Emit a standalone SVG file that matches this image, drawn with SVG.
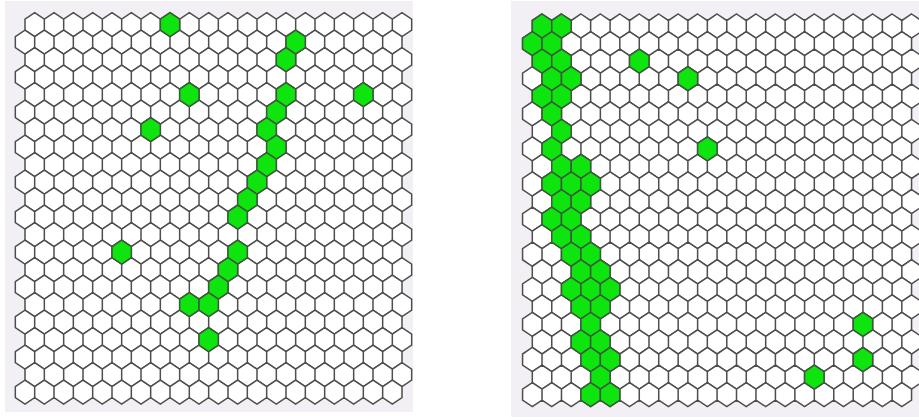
<svg xmlns="http://www.w3.org/2000/svg" xmlns:xlink="http://www.w3.org/1999/xlink" width="919" height="420" viewBox="0 0 919 420">
<style>
.bg{fill:#f2f0f4}
.cell{fill:#ffffff;stroke:#4e4e4e;stroke-width:1.5}
.on{fill:#0ee50e;stroke:#3a5a3a;stroke-width:1.5}
</style>
<defs>
<path id="hx" d="M0,-12 L9.667,-5.5 V5.5 L0,12 L-9.667,5.5 V-5.5 Z"/>
<path id="row" d="M9.667,-12 l9.667,6.5 v11 l-9.667,6.5 l-9.667,-6.5 v-11z m19.333,0 l9.667,6.5 v11 l-9.667,6.5 l-9.667,-6.5 v-11z m19.333,0 l9.667,6.5 v11 l-9.667,6.5 l-9.667,-6.5 v-11z m19.333,0 l9.667,6.5 v11 l-9.667,6.5 l-9.667,-6.5 v-11z m19.333,0 l9.667,6.5 v11 l-9.667,6.5 l-9.667,-6.5 v-11z m19.333,0 l9.667,6.5 v11 l-9.667,6.5 l-9.667,-6.5 v-11z m19.333,0 l9.667,6.5 v11 l-9.667,6.5 l-9.667,-6.5 v-11z m19.333,0 l9.667,6.5 v11 l-9.667,6.5 l-9.667,-6.5 v-11z m19.333,0 l9.667,6.5 v11 l-9.667,6.5 l-9.667,-6.5 v-11z m19.333,0 l9.667,6.5 v11 l-9.667,6.5 l-9.667,-6.5 v-11z m19.333,0 l9.667,6.5 v11 l-9.667,6.5 l-9.667,-6.5 v-11z m19.333,0 l9.667,6.5 v11 l-9.667,6.5 l-9.667,-6.5 v-11z m19.333,0 l9.667,6.5 v11 l-9.667,6.5 l-9.667,-6.5 v-11z m19.333,0 l9.667,6.5 v11 l-9.667,6.5 l-9.667,-6.5 v-11z m19.333,0 l9.667,6.5 v11 l-9.667,6.5 l-9.667,-6.5 v-11z m19.333,0 l9.667,6.5 v11 l-9.667,6.5 l-9.667,-6.5 v-11z m19.333,0 l9.667,6.5 v11 l-9.667,6.5 l-9.667,-6.5 v-11z m19.333,0 l9.667,6.5 v11 l-9.667,6.5 l-9.667,-6.5 v-11z m19.333,0 l9.667,6.5 v11 l-9.667,6.5 l-9.667,-6.5 v-11z m19.333,0 l9.667,6.5 v11 l-9.667,6.5 l-9.667,-6.5 v-11z"/>
<g id="grid">
<use href="#row" y="12"/>
<use href="#row" x="-9.667" y="29.5"/>
<use href="#row" y="47"/>
<use href="#row" x="-9.667" y="64.5"/>
<use href="#row" y="82"/>
<use href="#row" x="-9.667" y="99.5"/>
<use href="#row" y="117"/>
<use href="#row" x="-9.667" y="134.5"/>
<use href="#row" y="152"/>
<use href="#row" x="-9.667" y="169.5"/>
<use href="#row" y="187"/>
<use href="#row" x="-9.667" y="204.5"/>
<use href="#row" y="222"/>
<use href="#row" x="-9.667" y="239.5"/>
<use href="#row" y="257"/>
<use href="#row" x="-9.667" y="274.5"/>
<use href="#row" y="292"/>
<use href="#row" x="-9.667" y="309.5"/>
<use href="#row" y="327"/>
<use href="#row" x="-9.667" y="344.5"/>
<use href="#row" y="362"/>
<use href="#row" x="-9.667" y="379.5"/>
</g>
</defs>

<g id="left-panel">
<rect class="bg" x="5" y="1" width="408" height="411"/>
<g transform="translate(25,12.7)">
<use href="#grid" class="cell"/>
<g id="left-green" class="on">
<use href="#hx" x="145" y="12"/>
<use href="#hx" x="270.667" y="29.5"/>
<use href="#hx" x="261" y="47"/>
<use href="#hx" x="164.333" y="82"/>
<use href="#hx" x="261" y="82"/>
<use href="#hx" x="338.333" y="82"/>
<use href="#hx" x="251.333" y="99.5"/>
<use href="#hx" x="125.667" y="117"/>
<use href="#hx" x="241.667" y="117"/>
<use href="#hx" x="251.333" y="134.5"/>
<use href="#hx" x="241.667" y="152"/>
<use href="#hx" x="232" y="169.5"/>
<use href="#hx" x="222.333" y="187"/>
<use href="#hx" x="212.667" y="204.5"/>
<use href="#hx" x="212.667" y="239.5"/>
<use href="#hx" x="96.667" y="239.5"/>
<use href="#hx" x="203" y="257"/>
<use href="#hx" x="193.333" y="274.5"/>
<use href="#hx" x="164.333" y="292"/>
<use href="#hx" x="183.667" y="292"/>
<use href="#hx" x="183.667" y="327"/>
</g>
</g>
</g>

<g id="right-panel">
<rect class="bg" x="511" y="1" width="408" height="416"/>
<g transform="translate(532.3,14) scale(1.006,1.003)">
<use href="#grid" class="cell"/>
<g id="right-green" class="on">
<use href="#hx" x="9.667" y="12"/>
<use href="#hx" x="29" y="12"/>
<use href="#hx" x="0" y="29.5"/>
<use href="#hx" x="19.333" y="29.5"/>
<use href="#hx" x="9.667" y="47"/>
<use href="#hx" x="29" y="47"/>
<use href="#hx" x="106.333" y="47"/>
<use href="#hx" x="19.333" y="64.5"/>
<use href="#hx" x="38.667" y="64.5"/>
<use href="#hx" x="154.667" y="64.5"/>
<use href="#hx" x="9.667" y="82"/>
<use href="#hx" x="29" y="82"/>
<use href="#hx" x="19.333" y="99.5"/>
<use href="#hx" x="29" y="117"/>
<use href="#hx" x="19.333" y="134.5"/>
<use href="#hx" x="174" y="134.5"/>
<use href="#hx" x="29" y="152"/>
<use href="#hx" x="48.333" y="152"/>
<use href="#hx" x="19.333" y="169.5"/>
<use href="#hx" x="38.667" y="169.5"/>
<use href="#hx" x="58" y="169.5"/>
<use href="#hx" x="29" y="187"/>
<use href="#hx" x="48.333" y="187"/>
<use href="#hx" x="19.333" y="204.5"/>
<use href="#hx" x="38.667" y="204.5"/>
<use href="#hx" x="29" y="222"/>
<use href="#hx" x="48.333" y="222"/>
<use href="#hx" x="38.667" y="239.5"/>
<use href="#hx" x="58" y="239.5"/>
<use href="#hx" x="48.333" y="257"/>
<use href="#hx" x="67.667" y="257"/>
<use href="#hx" x="38.667" y="274.5"/>
<use href="#hx" x="58" y="274.5"/>
<use href="#hx" x="77.333" y="274.5"/>
<use href="#hx" x="48.333" y="292"/>
<use href="#hx" x="67.667" y="292"/>
<use href="#hx" x="58" y="309.5"/>
<use href="#hx" x="328.667" y="309.5"/>
<use href="#hx" x="48.333" y="327"/>
<use href="#hx" x="67.667" y="327"/>
<use href="#hx" x="58" y="344.5"/>
<use href="#hx" x="77.333" y="344.5"/>
<use href="#hx" x="328.667" y="344.5"/>
<use href="#hx" x="67.667" y="362"/>
<use href="#hx" x="280.333" y="362"/>
<use href="#hx" x="58" y="379.5"/>
<use href="#hx" x="77.333" y="379.5"/>
</g>
</g>
</g>
</svg>
